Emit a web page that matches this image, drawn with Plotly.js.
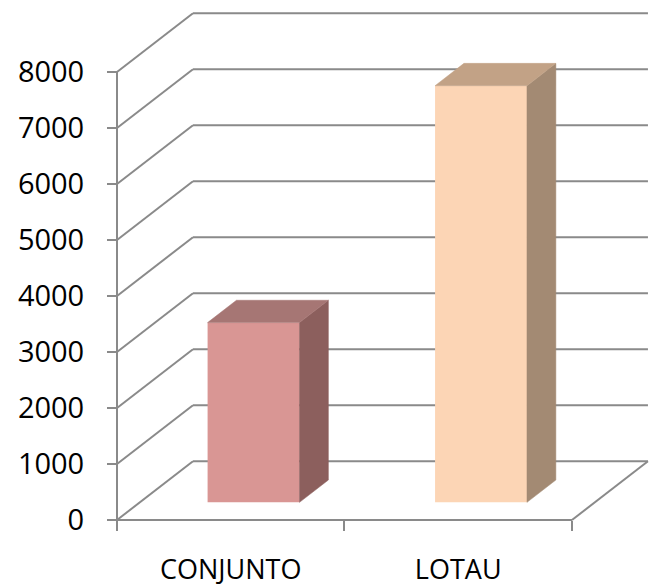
<!DOCTYPE html>
<html><head><meta charset="utf-8">
<script src="https://cdn.plot.ly/plotly-3.0.1.min.js"></script>
<style>html,body{margin:0;padding:0;background:#fff}#chart{width:650px;height:587px}</style>
</head><body><div id="chart"></div>
<script>
// ---- data ----
const categories = ['CONJUNTO', 'LOTAU'];
const values = [3210, 7440];
const yTicks = [0, 1000, 2000, 3000, 4000, 5000, 6000, 7000, 8000];

// ---- styles ----
const frontColors = ['#D99694', '#FCD5B5'];
const sideColors = ['#8C5F5D', '#A38A73'];
const topColors = ['#A67674', '#C2A286'];
const grid = '#8a8a8a';
const gw = 2;

// ---- 3D oblique projection geometry (axis units) ----
const DX = 0.334, DY = 1050;   // full depth offset of floor/walls
const D0 = 0.30, D1 = 0.68;    // bar depth (fraction of full depth)
const BW = 0.404;              // bar width (category units)
const X0 = -0.022, X1 = 2.343, Y0 = -89.3, Y1 = 9107;
const W = 650, H = 587, ML = 112, MR = 0, MT = 10, MB = 62;

const nCat = categories.length;
const shapes = [];
function seg(x0, y0, x1, y1) {
  shapes.push({type: 'line', xref: 'x', yref: 'y', x0, y0, x1, y1, layer: 'below',
    line: {color: grid, width: gw}});
}
yTicks.forEach(v => {
  seg(0, v, DX, v + DY);            // side wall diagonal
  seg(DX, v + DY, nCat + DX, v + DY); // back wall gridline
});
seg(0, 0, nCat, 0);                 // floor front edge
seg(nCat, 0, nCat + DX, DY);        // floor right edge
seg(0, 0, 0, yTicks[yTicks.length - 1]); // value axis line

const traces = [];
const xs = categories.map((c, i) => i + 0.5 + D0 * DX);
const base = D0 * DY;
traces.push({type: 'bar', x: xs, y: values, base: values.map(() => base), width: BW,
  marker: {color: frontColors, line: {width: 0}}, hoverinfo: 'skip', showlegend: false});
const dd = D1 - D0;
categories.forEach((c, i) => {
  const xl = xs[i] - BW / 2, xr = xs[i] + BW / 2, b = base, t = base + values[i];
  traces.push({type: 'scatter', mode: 'lines', showlegend: false, hoverinfo: 'skip',
    x: [xr, xr + dd * DX, xr + dd * DX, xr, xr],
    y: [b, b + dd * DY, t + dd * DY, t, b],
    fill: 'toself', fillcolor: sideColors[i], line: {color: sideColors[i], width: 0.5}});
  traces.push({type: 'scatter', mode: 'lines', showlegend: false, hoverinfo: 'skip',
    x: [xl, xl + dd * DX, xr + dd * DX, xr, xl],
    y: [t, t + dd * DY, t + dd * DY, t, t],
    fill: 'toself', fillcolor: topColors[i], line: {color: topColors[i], width: 0.5}});
});

const layout = {
  width: W, height: H,
  margin: {l: ML, r: MR, t: MT, b: MB, pad: 0},
  paper_bgcolor: '#fff', plot_bgcolor: 'rgba(0,0,0,0)',
  showlegend: false, hovermode: false,
  shapes: shapes,
  xaxis: {
    range: [X0, X1], showgrid: false, zeroline: false, showline: false,
    tickmode: 'array', tickvals: categories.map((c, i) => i + 0.5), ticktext: categories,
    ticks: '', tickfont: {family: 'Open Sans', size: 27, color: '#000'},
    ticklabelstandoff: 31,
    minor: {tickmode: 'array', tickvals: categories.map((c, i) => i).concat([nCat]),
      ticks: 'outside', ticklen: 10, tickwidth: 2, tickcolor: grid, showgrid: false},
    anchor: 'free', position: (0 - Y0) / (Y1 - Y0)
  },
  yaxis: {
    range: [Y0, Y1], showgrid: false, zeroline: false, showline: false,
    tickmode: 'array', tickvals: yTicks,
    ticks: 'outside', ticklen: 10, tickwidth: 2, tickcolor: grid,
    tickfont: {family: 'Open Sans', size: 29, color: '#000'},
    ticklabelstandoff: 17,
    anchor: 'free', position: (0 - X0) / (X1 - X0)
  }
};
Plotly.newPlot('chart', traces, layout, {staticPlot: true, displayModeBar: false});
</script>
</body></html>
